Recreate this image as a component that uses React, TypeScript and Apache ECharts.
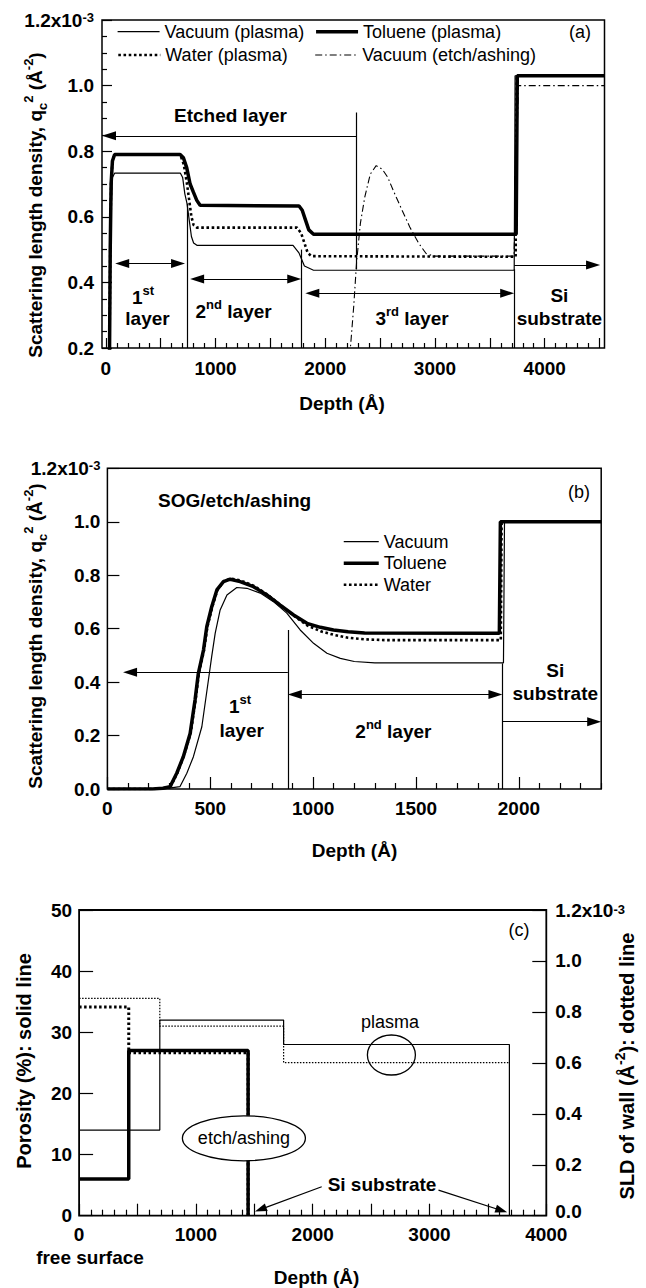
import React, { useEffect, useRef } from "react";
import * as echarts from "echarts";

const FONT = "'Liberation Sans', Arial, Helvetica, sans-serif";

// ---------------- Panel (a) data: depth (Å), SLD (x10^-3 Å^-2) ----------------
const aXLabels = [0, 1000, 2000, 3000, 4000];
const aXMajor = [0, 500, 1000, 1500, 2000, 2500, 3000, 3500, 4000, 4500];
const aVacuumPlasma: [number, number][] = [
  [20, 0.0], [35, 0.3], [45, 0.6], [60, 0.72], [80, 0.733], [680, 0.733], [700, 0.72],
  [720, 0.67], [740, 0.64], [760, 0.59], [780, 0.54], [800, 0.52], [830, 0.513],
  [1706, 0.513], [1760, 0.49], [1810, 0.45], [1893, 0.437], [3722, 0.437], [3730, 1.03], [4545, 1.03],
];
const aToluenePlasma: [number, number][] = [
  [30, 0.0], [40, 0.5], [48, 0.7], [60, 0.77], [80, 0.79], [677, 0.79], [707, 0.78],
  [737, 0.75], [768, 0.7], [798, 0.675], [829, 0.65], [859, 0.635], [1761, 0.633],
  [1790, 0.62], [1820, 0.59], [1850, 0.56], [1893, 0.547], [3740, 0.547], [3750, 1.03], [4545, 1.03],
];
const aWaterPlasma: [number, number][] = [
  [30, 0.0], [40, 0.5], [48, 0.7], [60, 0.77], [80, 0.79], [677, 0.79], [710, 0.76],
  [740, 0.7], [760, 0.65], [780, 0.6], [800, 0.575], [830, 0.567], [1742, 0.567],
  [1780, 0.55], [1810, 0.52], [1840, 0.49], [1874, 0.48], [3735, 0.478], [3745, 1.03], [4545, 1.03],
];
const aVacuumEtch: [number, number][] = [
  [2150, 0.0], [2229, 0.2], [2260, 0.33], [2285, 0.46], [2320, 0.58], [2360, 0.66],
  [2410, 0.73], [2464, 0.756], [2520, 0.745], [2570, 0.72], [2620, 0.68], [2700, 0.62],
  [2770, 0.569], [2850, 0.52], [2919, 0.488], [2994, 0.48], [3720, 0.48], [3760, 1.0], [4545, 1.0],
];

// ---------------- Panel (b) data ----------------
const bXLabels = [0, 500, 1000, 1500, 2000];
const bVacuum: [number, number][] = [
  [0, 0], [250, 0], [300, 0.003], [353, 0.009], [386, 0.059], [418, 0.121], [459, 0.233],
  [491, 0.408], [507, 0.496], [524, 0.583], [548, 0.67], [581, 0.726], [629, 0.754],
  [678, 0.751], [743, 0.733], [807, 0.701], [872, 0.658], [937, 0.595], [1002, 0.545],
  [1067, 0.508], [1132, 0.489], [1200, 0.477], [1300, 0.472], [1925, 0.472], [1930, 1.0], [2400, 1.0],
];
const bToluene: [number, number][] = [
  [0, 0], [220, 0], [270, 0.003], [305, 0.009], [337, 0.059], [369, 0.121], [402, 0.208],
  [426, 0.333], [442, 0.433], [467, 0.52], [483, 0.607], [507, 0.682], [532, 0.745],
  [564, 0.776], [597, 0.785], [645, 0.776], [710, 0.757], [775, 0.726], [840, 0.688],
  [905, 0.651], [970, 0.62], [1035, 0.605], [1099, 0.595], [1170, 0.588], [1250, 0.584],
  [1905, 0.583], [1910, 1.0], [2400, 1.0],
];
const bWater: [number, number][] = [
  [0, 0], [225, 0], [275, 0.003], [308, 0.01], [340, 0.06], [372, 0.125], [405, 0.21],
  [429, 0.335], [445, 0.435], [470, 0.52], [486, 0.607], [510, 0.682], [535, 0.745],
  [567, 0.778], [600, 0.788], [648, 0.78], [712, 0.76], [777, 0.728], [842, 0.688],
  [907, 0.648], [972, 0.612], [1037, 0.59], [1100, 0.577], [1170, 0.566], [1250, 0.56],
  [1350, 0.557], [1912, 0.557], [1916, 1.0], [2400, 1.0],
];

// ---------------- Panel (c) data (step profiles) ----------------
const cXLabels = [0, 1000, 2000, 3000, 4000];
const cPorosityPlasma: [number, number][] = [[0, 14], [691, 32], [1751, 28], [3684, 0]];
const cPorosityEtch: [number, number][] = [[0, 6], [425, 27], [1447, 0]];
const cWallPlasma: [number, number][] = [[0, 0.853], [691, 0.744], [1751, 0.601], [3684, 0.601]];
const cWallEtch: [number, number][] = [[0, 0.819], [425, 0.64], [1447, 0]];

// ---------------- helpers ----------------
function stepsBetween(min: number, max: number, step: number, skipEvery: number): number[] {
  const out: number[] = [];
  for (let i = 0; min + i * step <= max + 1e-9; i++) {
    const v = +(min + i * step).toFixed(6);
    const r = v / skipEvery;
    if (Math.abs(r - Math.round(r)) > 1e-6) out.push(v);
  }
  return out;
}

function richSet(size: number, weight: string, lh = size + 8) {
  const sub = Math.round(size * 0.68);
  const base = { fontFamily: FONT, fontWeight: weight, color: "#000" };
  return {
    n: { ...base, fontSize: size, lineHeight: lh, verticalAlign: "middle" },
    s: { ...base, fontSize: sub, lineHeight: sub + 1, verticalAlign: "top" },
    u: { ...base, fontSize: sub, lineHeight: sub + 1, verticalAlign: "bottom" },
    z: { ...base, fontSize: size, lineHeight: lh, verticalAlign: "middle", padding: [0, 0, 8, 0] },
  };
}

const TICK = { color: "#000", width: 1.2 };
const LBL = { fontSize: 19, fontWeight: "bold", fontFamily: FONT, color: "#000" };

function xMajor(id: string, gridId: string, min: number, max: number, ticks: number[], labels: number[], len: number, margin: number) {
  return {
    id, type: "value", gridId, min, max, position: "bottom",
    axisLine: { show: false, onZero: false }, splitLine: { show: false },
    axisTick: { show: true, inside: true, length: len, customValues: ticks, lineStyle: TICK },
    axisLabel: { show: true, customValues: labels, margin, ...LBL, lineHeight: 17, formatter: (v: number) => String(v) },
  };
}
function xMinor(id: string, gridId: string, min: number, max: number, ticks: number[], len: number) {
  return {
    id, type: "value", gridId, min, max, position: "bottom",
    axisLine: { show: false, onZero: false }, splitLine: { show: false },
    axisTick: { show: true, inside: true, length: len, customValues: ticks, lineStyle: TICK },
    axisLabel: { show: false },
  };
}
const sciFmt = (v: number) =>
  Math.abs(v - 1.2) < 1e-6 ? "{n|1.2x10}{s|-3}" : "{n|" + v.toFixed(1) + "}";
// right axis of panel (c): the bottom label is lifted a little so it clears the depth label "4000"
const sciFmtRight = (v: number) => (Math.abs(v) < 1e-9 ? "{z|0.0}" : sciFmt(v));

function makeY(id: string, gridId: string, min: number, max: number, interval: number, len: number, margin: number,
  fmt: (v: number) => string, position: string, minor?: number, lh = 18) {
  return {
    id, type: "value", gridId, min, max, interval, position,
    axisLine: { show: false, onZero: false }, splitLine: { show: false },
    axisTick: { show: true, inside: true, length: len, lineStyle: TICK },
    minorTick: minor ? { show: true, splitNumber: minor, length: len / 2, lineStyle: TICK } : { show: false },
    minorSplitLine: { show: false },
    axisLabel: { show: true, margin, formatter: fmt, rich: richSet(19, "bold", lh), ...LBL },
  };
}

function line(name: string, data: [number, number][], xId: string, yId: string, width: number, dash: any, extra: any = {}) {
  return {
    type: "line", name, data, xAxisId: xId, yAxisId: yId, symbol: "none", showSymbol: false,
    lineStyle: { color: "#000", width, type: dash }, itemStyle: { color: "#000" }, silent: true,
    emphasis: { disabled: true }, clip: true, z: 3, ...extra,
  };
}

function arrowLine(p1: number[], p2: number[], s1: string, s2: string) {
  return [{ coord: p1, symbol: s1 }, { coord: p2, symbol: s2 }];
}
function markLines(items: any[], size: number[]) {
  return {
    silent: true, animation: false, symbolSize: size, label: { show: false },
    emphasis: { disabled: true },
    lineStyle: { color: "#000", width: 1.2, type: "solid" }, data: items,
  };
}

function txt(x: number, y: number, text: string, size: number, weight: string, rot = 0) {
  return {
    type: "text", x, y, rotation: rot, z: 100, silent: true,
    style: {
      text, align: "center", verticalAlign: "middle", fill: "#000",
      fontSize: size, fontWeight: weight, fontFamily: FONT, rich: richSet(size, weight),
    },
  };
}

function buildOption() {
  const legendBase = {
    padding: 0, itemHeight: 14, selectedMode: false,
    textStyle: { fontSize: 18, fontFamily: FONT, color: "#000", lineHeight: 20 },
    lineStyle: { width: "inherit", type: "inherit" },
    itemStyle: { opacity: 0, borderWidth: 0 },
  };
  const sldTitle = "{n|Scattering length density, q}{u|c}{s|2}{n| (Å}{s|-2}{n|)}";

  return {
    animation: false,
    backgroundColor: "#fff",
    grid: [
      { id: "ga", left: 102, top: 20, width: 502.5, height: 328, show: true, borderColor: "#000", borderWidth: 1.5 },
      { id: "gb", left: 107.4, top: 468.3, width: 493.8, height: 320.7, show: true, borderColor: "#000", borderWidth: 1.5 },
      { id: "gc", left: 79.1, top: 910, width: 467.2, height: 305.7, show: true, borderColor: "#000", borderWidth: 1.8 },
    ],
    xAxis: [
      xMajor("xa", "ga", -35, 4545, aXMajor, aXLabels, 10, 12),
      xMinor("xa2", "ga", -35, 4545, stepsBetween(0, 4500, 100, 500), 5),
      xMajor("xb", "gb", 0, 2400, [0, 500, 1000, 1500, 2000], bXLabels, 12, 11),
      xMinor("xb2", "gb", 0, 2400, stepsBetween(0, 2400, 100, 500), 6),
      xMajor("xc", "gc", 0, 4000, [0, 500, 1000, 1500, 2000, 2500, 3000, 3500, 4000], cXLabels, 12, 10),
      xMinor("xc2", "gc", 0, 4000, stepsBetween(0, 4000, 100, 500), 6),
    ],
    yAxis: [
      makeY("ya", "ga", 0.2, 1.2, 0.2, 10, 8, sciFmt, "left", 4),
      makeY("yb", "gb", 0, 1.2, 0.2, 12, 7, sciFmt, "left"),
      makeY("yc", "gc", 0, 50, 10, 14, 7, (v: number) => "{n|" + v + "}", "left"),
      makeY("yc2", "gc", 0, 1.2, 0.2, 14, 9, sciFmtRight, "right", 0, 12),
    ],
    legend: [
      { ...legendBase, data: ["Vacuum (plasma)", "Toluene (plasma)"], left: 117, top: 21.7, itemWidth: 42, itemGap: 10 },
      { ...legendBase, data: ["Water (plasma)", "Vacuum (etch/ashing)"], left: 117, top: 45, itemWidth: 42, itemGap: 27 },
      { ...legendBase, data: ["Vacuum", "Toluene", "Water"], orient: "vertical", left: 342, top: 531.7, itemWidth: 35, itemGap: 1.5 },
    ],
    series: [
      // panel (a)
      line("Vacuum (plasma)", aVacuumPlasma, "xa", "ya", 1.2, "solid", {
        markLine: markLines([
          arrowLine([2285, 0.847], [29, 0.847], "none", "triangle"),
          arrowLine([2285, 0.918], [2285, 0.44], "none", "none"),
          arrowLine([743, 0.2], [743, 0.64], "none", "none"),
          arrowLine([1781, 0.2], [1781, 0.5], "none", "none"),
          arrowLine([3722, 0.2], [3722, 0.44], "none", "none"),
          arrowLine([149, 0.458], [658, 0.458], "triangle", "triangle"),
          arrowLine([832, 0.41], [1717, 0.41], "triangle", "triangle"),
          arrowLine([1882, 0.367], [3658, 0.367], "triangle", "triangle"),
          arrowLine([3722, 0.453], [4441, 0.453], "none", "triangle"),
        ], [9, 14]),
      }),
      line("Water (plasma)", aWaterPlasma, "xa", "ya", 2.6, [2.6, 2.6]),
      line("Vacuum (etch/ashing)", aVacuumEtch, "xa", "ya", 1.1, [7, 3, 1.5, 3]),
      line("Toluene (plasma)", aToluenePlasma, "xa", "ya", 3.5, "solid"),
      // panel (b)
      line("Vacuum", bVacuum, "xb", "yb", 1.2, "solid", {
        markLine: markLines([
          arrowLine([877, 0], [877, 0.595], "none", "none"),
          arrowLine([877, 0.437], [110, 0.437], "none", "triangle"),
          arrowLine([1920, 0], [1920, 0.47], "none", "none"),
          arrowLine([911, 0.354], [1886, 0.354], "triangle", "triangle"),
          arrowLine([1920, 0.252], [2366, 0.252], "none", "triangle"),
        ], [9, 14]),
      }),
      line("Water", bWater, "xb", "yb", 2.6, [2.6, 2.6]),
      line("Toluene", bToluene, "xb", "yb", 3.5, "solid"),
      // panel (c)
      line("Porosity plasma", cPorosityPlasma, "xc", "yc", 1.2, "solid", {
        step: "end",
        markLine: markLines([
          arrowLine([2077, 4.73], [1554, 1.04], "none", "triangle"),
          arrowLine([3077, 4.19], [3616, 0.85], "none", "triangle"),
        ], [8, 12]),
      }),
      line("Porosity etch/ashing", cPorosityEtch, "xc", "yc", 3.5, "solid", { step: "end" }),
      line("SLD wall plasma", cWallPlasma, "xc", "yc2", 1.2, [1.5, 1.5], { step: "end" }),
      line("SLD wall etch/ashing", cWallEtch, "xc", "yc2", 3, [2.5, 2.5], { step: "end" }),
    ],
    graphic: [
      // panel (a)
      txt(35, 205, sldTitle, 19, "bold", Math.PI / 2),
      txt(580, 32, "(a)", 18, "normal"),
      txt(230.5, 115, "Etched layer", 19, "bold"),
      txt(143, 297, "{n|1}{s|st}", 19, "bold"),
      txt(147.5, 318, "layer", 19, "bold"),
      txt(233.6, 311.7, "{n|2}{s|nd}{n| layer}", 19, "bold"),
      txt(412, 318, "{n|3}{s|rd}{n| layer}", 19, "bold"),
      txt(559.4, 295, "Si", 19, "bold"),
      txt(559.4, 318, "substrate", 19, "bold"),
      txt(342, 403, "Depth (Å)", 19, "bold"),
      // panel (b)
      txt(35, 636, sldTitle, 19, "bold", Math.PI / 2),
      txt(579, 492, "(b)", 18, "normal"),
      txt(234.6, 500, "SOG/etch/ashing", 19, "bold"),
      txt(240, 706.7, "{n|1}{s|st}", 19, "bold"),
      txt(241.7, 730, "layer", 19, "bold"),
      txt(393.4, 731.7, "{n|2}{s|nd}{n| layer}", 19, "bold"),
      txt(555.3, 670, "Si", 19, "bold"),
      txt(555.3, 693.3, "substrate", 19, "bold"),
      txt(354.5, 850, "Depth (Å)", 19, "bold"),
      // panel (c)
      txt(23.6, 1061, "Porosity (%): solid line", 20, "bold", Math.PI / 2),
      txt(627, 1066, "{n|SLD of wall (Å}{s|-2}{n|): dotted line}", 20, "bold", Math.PI / 2),
      txt(519, 930, "(c)", 18, "normal"),
      txt(390, 1021.7, "plasma", 18, "normal"),
      { type: "ellipse", z: 99, silent: true, shape: { cx: 391.4, cy: 1055, rx: 24, ry: 20 }, style: { fill: "none", stroke: "#000", lineWidth: 1.3 } },
      { type: "ellipse", z: 99, silent: true, shape: { cx: 243.9, cy: 1138.3, rx: 61.5, ry: 22.5 }, style: { fill: "#fff", stroke: "#000", lineWidth: 1.3 } },
      txt(243.9, 1138.3, "etch/ashing", 18, "normal"),
      txt(382, 1184, "Si substrate", 19, "bold"),
      txt(90, 1257, "free surface", 19, "bold"),
      txt(316.6, 1277.5, "Depth (Å)", 19, "bold"),
    ],
  };
}

export default function App() {
  const ref = useRef<HTMLDivElement>(null);
  useEffect(() => {
    if (!ref.current) return;
    const chart = echarts.init(ref.current, null, { renderer: "svg" });
    chart.setOption(buildOption() as any);
    return () => chart.dispose();
  }, []);
  return (
    <div
      ref={ref}
      style={{ position: "absolute", left: 0, top: 0, width: 646, height: 1288, background: "#fff" }}
    />
  );
}
